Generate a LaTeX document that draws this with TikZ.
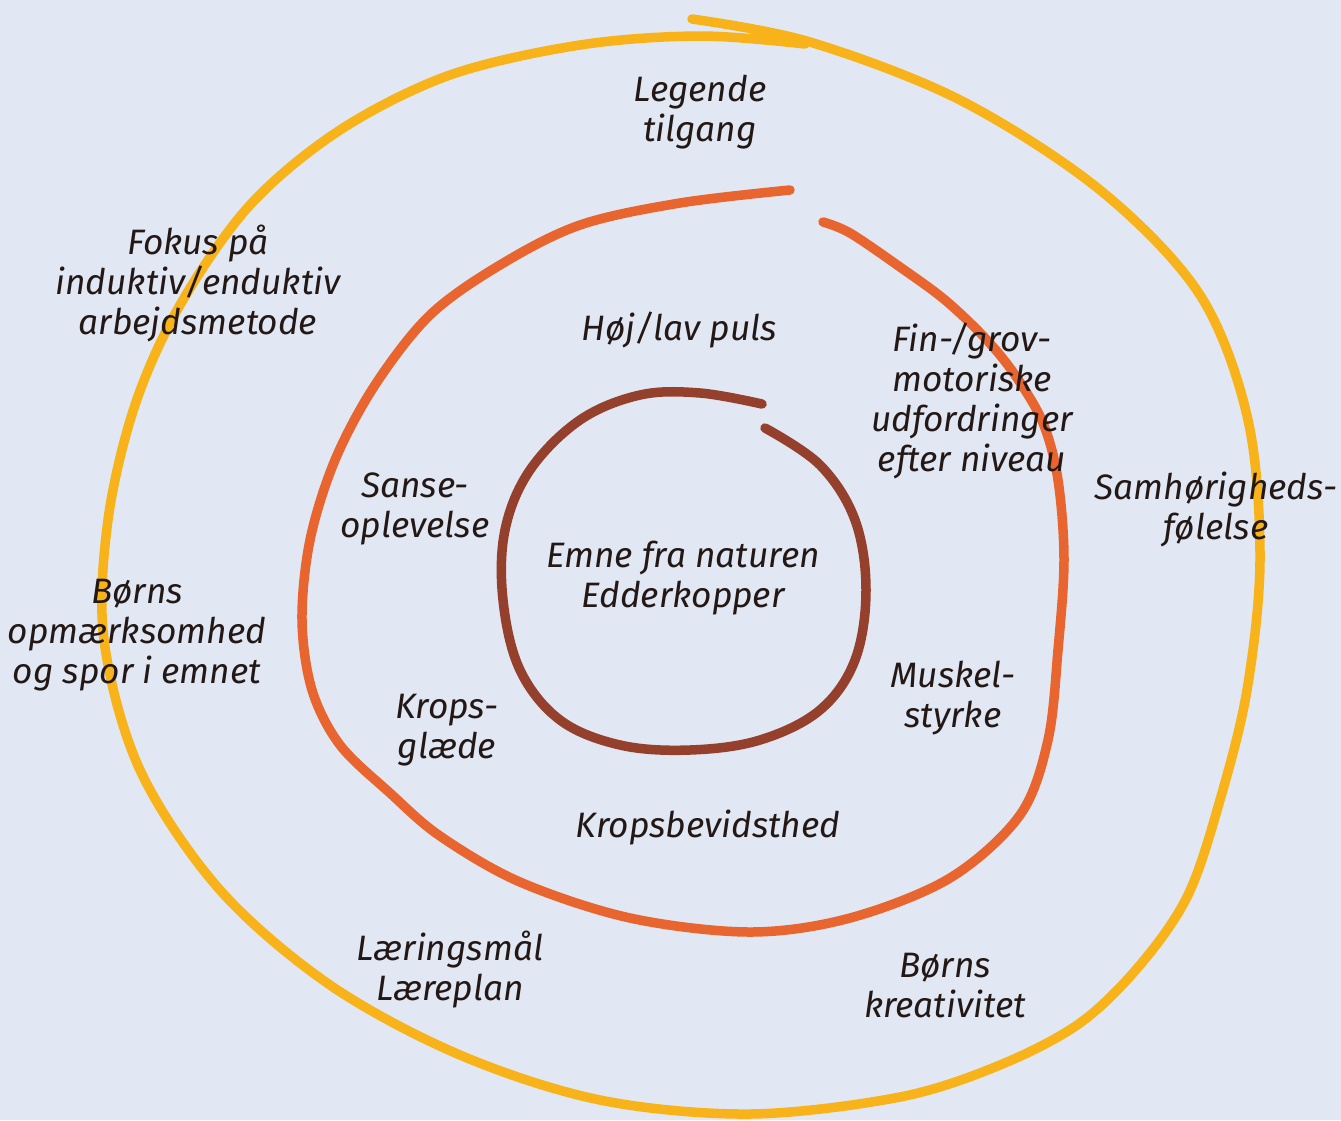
\documentclass[tikz,border=0pt]{standalone}
\usepackage{fontspec}
\setmainfont{Fira Sans}
\usetikzlibrary{positioning}
\definecolor{bgclr}{HTML}{E1E8F3}
\definecolor{outerclr}{HTML}{F8B31B}
\definecolor{midclr}{HTML}{E8652F}
\definecolor{innerclr}{HTML}{94402C}
\definecolor{txtclr}{HTML}{231815}
\tikzset{ %
  ,every node/.style={font=\fontsize{35.3}{40}\selectfont\itshape, text=txtclr}
  ,ring/.style={line width=9.5pt, line cap=round, line join=round}
  ,lbl/.style={align=center, inner sep=0}
}

\begin{document}
\begin{tikzpicture}[x=1pt, y=-1pt]
      \fill[bgclr] (0,0) rectangle (1341,1120);
      \useasboundingbox (0,0) rectangle (1341,1120);
      % outer ring
      \draw[ring, outerclr] plot[smooth, tension=0.55] coordinates {
        (692,19) (810,42) (960,100) (1100,190) (1200,295) (1248,420) (1260,560)
        (1247,690) (1220,800) (1188,895) (1140,965) (1080,1023) (1000,1065)
        (900,1097) (750,1114) (600,1100) (460,1055) (330,985) (220,890)
        (140,770) (104,640) (108,520) (135,405) (180,305) (250,205) (340,130)
        (450,75) (580,45) (700,36) (805,44)};
      % middle ring
      \draw[ring, midclr] plot[smooth, tension=0.55] coordinates {
        (790,190) (680,203) (580,225) (500,265) (430,315) (375,385) (335,460)
        (310,540) (302,620) (312,690) (340,745) (390,793) (440,836) (520,882)
        (630,918) (750,932) (850,918) (950,878) (1020,815) (1048,740) (1058,650)
        (1064,560) (1058,480) (1043,423) (1015,375) (985,338) (945,300)
        (900,267) (850,233) (823,222)};
      % inner ring
      \draw[ring, innerclr] plot[smooth, tension=0.6] coordinates {
        (765,428) (820,465) (855,520) (866,590) (855,660) (820,710) (760,740)
        (690,750) (620,745) (560,720) (520,670) (503,600) (505,530) (530,470)
        (580,420) (640,395) (700,393) (762,404)};
      % labels
      \node[lbl] (emne) at (683,578) {Emne fra naturen\\Edderkopper};
      \node[lbl] (puls) at (679,330) {Høj/lav puls};
      \node[lbl] (motor) at (972,401) {Fin-/grov-\\motoriske\\udfordringer\\efter niveau};
      \node[lbl] (sanse) at (415,509) {Sanse-\\oplevelse};
      \node[lbl] (muskel) at (953,698) {Muskel-\\styrke};
      \node[lbl] (glaede) at (447,730) {Krops-\\glæde};
      \node[lbl] (bevidst) at (708,828) {Kropsbevidsthed};
      \node[lbl] (legende) at (700,112) {Legende\\tilgang};
      \node[lbl] (fokus) at (198,283) {Fokus på\\induktiv/enduktiv\\arbejdsmetode};
      \node[lbl] (samhor) at (1216,509) {Samhørigheds-\\følelse};
      \node[lbl] (opm) at (137,635) {Børns\\opmærksomhed\\og spor i emnet};
      \node[lbl] (laering) at (450,970) {Læringsmål\\Læreplan};
      \node[lbl] (kreativ) at (945,986) {Børns\\kreativitet};
\end{tikzpicture}
\end{document}
